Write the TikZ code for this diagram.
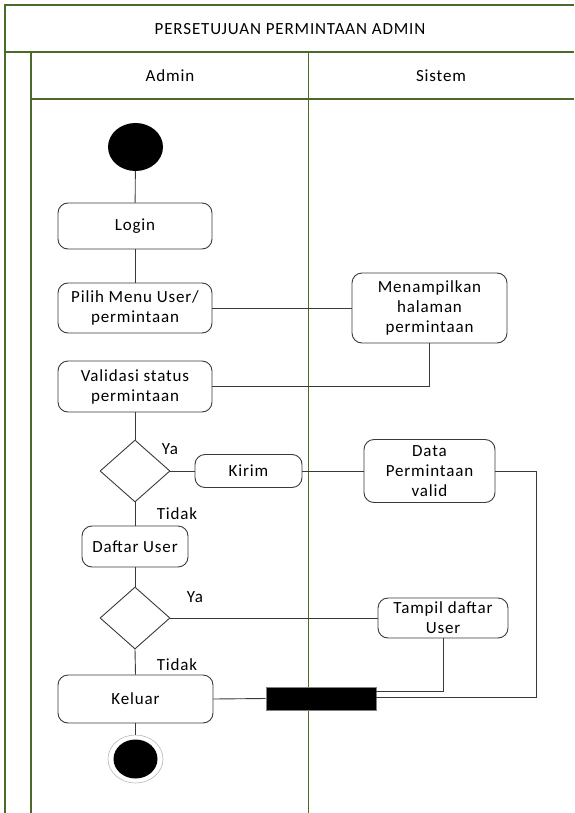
\documentclass[tikz,border=0pt]{standalone}
\usepackage{fontspec}
\setmainfont{Carlito}[LetterSpace=5]
\usetikzlibrary{shapes.geometric}
\definecolor{lanegreen}{HTML}{4A6A2A}
\definecolor{edgegray}{HTML}{3A3A3A}
\tikzset{
  lane/.style={draw=lanegreen, line width=1.4pt},
  lanethin/.style={draw=lanegreen, line width=1pt},
  act/.style={draw=edgegray, line width=0.9pt, rounded corners=10pt, align=center,
    inner sep=0pt, font=\fontsize{17}{20}\selectfont},
  dec/.style={draw=edgegray, line width=0.9pt, diamond, inner sep=0pt,
    minimum width=70pt, minimum height=62pt},
  flow/.style={draw=edgegray, line width=0.9pt},
  lbl/.style={font=\fontsize{17}{20}\selectfont, inner sep=0pt},
}
\begin{document}
\begin{tikzpicture}[x=1pt, y=-1pt]
  \useasboundingbox (0,0) rectangle (574,813);
  \fill[white] (0,0) rectangle (574,813);

  % swimlane frame
  \draw[lane] (5,813) -- (5,5) -- (574,5);
  \draw[lane] (5,52) -- (574,52);
  \draw[lane] (31,52) -- (31,813);
  \draw[lane] (31,99) -- (574,99);
  \draw[lanethin] (308,52) -- (308,813);

  \node[lbl] (title) at (290,29) {PERSETUJUAN PERMINTAAN ADMIN};
  \node[lbl] (hAdmin) at (170,76) {Admin};
  \node[lbl] (hSistem) at (441,76) {Sistem};

  % initial node
  \node[ellipse, fill=black, minimum width=55pt, minimum height=48pt, inner sep=0pt] (start) at (135.5,147) {};

  % actions
  \node[act, minimum width=154pt, minimum height=46pt] (login) at (135,226) {Login};
  \node[act, minimum width=154pt, minimum height=50pt] (pilih) at (135,308) {Pilih Menu User/\\permintaan};
  \node[act, minimum width=155pt, minimum height=70pt] (tampilHal) at (429.5,308) {Menampilkan\\halaman\\permintaan};
  \node[act, minimum width=154pt, minimum height=51pt] (validasi) at (135,386.5) {Validasi status\\permintaan};
  \node[dec] (d1) at (135,471) {};
  \node[act, minimum width=107pt, minimum height=33pt] (kirim) at (248.5,471) {Kirim};
  \node[act, minimum width=131pt, minimum height=63pt] (data) at (429.5,471) {Data\\Permintaan\\valid};
  \node[act, minimum width=106pt, minimum height=41pt] (daftar) at (135,546.5) {Daftar User};
  \node[dec] (d2) at (135,618) {};
  \node[act, minimum width=130pt, minimum height=40pt] (tampil) at (443,618) {Tampil daftar\\User};
  \node[act, minimum width=155pt, minimum height=48pt] (keluar) at (135.5,699) {Keluar};

  % join bar
  \node[draw=gray, line width=0.6pt, fill=black, minimum width=110pt, minimum height=23pt, inner sep=0pt] (bar) at (321,698.5) {};

  % final node
  \node[ellipse, draw=gray!55, line width=0.6pt, minimum width=55pt, minimum height=48pt, inner sep=0pt] (endO) at (135.5,759) {};
  \node[ellipse, fill=black, minimum width=44pt, minimum height=39pt, inner sep=0pt] (endI) at (135.5,759) {};

  % guard labels
  \node[lbl] (ya1) at (170,449) {Ya};
  \node[lbl] (tidak1) at (177,514) {Tidak};
  \node[lbl] (ya2) at (195,597) {Ya};
  \node[lbl] (tidak2) at (177,665) {Tidak};

  % connectors
  \coordinate (tIn) at (376,691);
  \coordinate (dIn) at (376,697);
  \coordinate (dRight) at (536,697);
  \draw[flow] (start) -- (login);
  \draw[flow] (login) -- (pilih);
  \draw[flow] (pilih.east) -- (tampilHal.west);
  \draw[flow] (tampilHal.south) |- (validasi.east);
  \draw[flow] (validasi) -- (d1);
  \draw[flow] (d1.east) -- (kirim.west);
  \draw[flow] (kirim.east) -- (data.west);
  \draw[flow] (d1.south) -- (daftar.north);
  \draw[flow] (daftar) -- (d2);
  \draw[flow] (d2.east) -- (tampil.west);
  \draw[flow] (d2.south) -- (keluar.north);
  \draw[flow] (keluar.east) -- (bar.west);
  \draw[flow] (keluar) -- (endO);
  \draw[flow] (tampil.south) |- (tIn);
  \draw[flow] (data.east) -| (dRight) -- (dIn);
\end{tikzpicture}
\end{document}
